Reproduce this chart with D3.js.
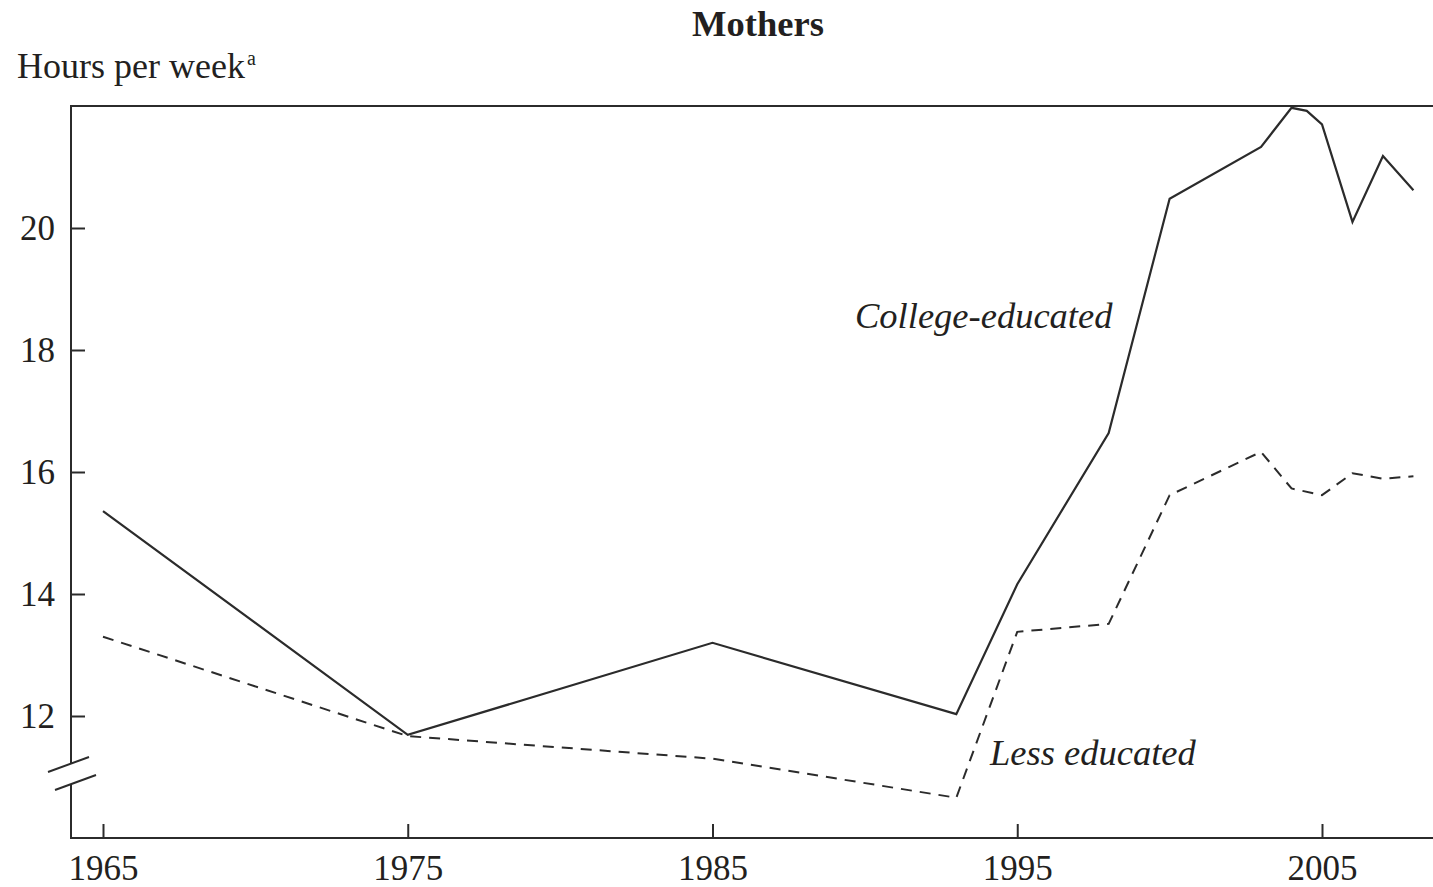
<!DOCTYPE html>
<html>
<head>
<meta charset="utf-8">
<script src="https://cdn.jsdelivr.net/npm/d3@7"></script>
<style>
  body { margin: 0; background: #fff; }
  text { font-family: "Liberation Serif", "Times New Roman", serif; fill: #231f20; }
</style>
</head>
<body>
<div id="chart"></div>
<script>
// data
const collegeYears = [1965, 1975, 1985, 1993, 1995, 1998, 2000, 2003, 2004, 2004.5, 2005, 2006, 2007, 2008];
const collegeHours = [15.36, 11.69, 13.20, 12.03, 14.16, 16.64, 20.48, 21.33, 21.97, 21.92, 21.70, 20.10, 21.18, 20.62];
const lessYears = [1965, 1975, 1985, 1993, 1995, 1998, 2000, 2003, 2004, 2005, 2006, 2007, 2008];
const lessHours = [13.30, 11.67, 11.30, 10.66, 13.38, 13.51, 15.62, 16.33, 15.73, 15.62, 15.98, 15.89, 15.93];
const xTicks = [1965, 1975, 1985, 1995, 2005];
const yTicks = [12, 14, 16, 18, 20];

const W = 1433, H = 887;
const plotLeft = 71, plotRight = 1433, plotTop = 106, plotBottom = 838;
const ink = "#2b2b2b";

const svg = d3.select("#chart").append("svg").attr("width", W).attr("height", H);

const x = d3.scaleLinear().domain([1965, 2005]).range([103, 1322]);
const y = d3.scaleLinear().domain([10, 22]).range([plotBottom, plotTop]);

// title + y label
svg.append("text").attr("x", 758).attr("y", 36)
  .attr("text-anchor", "middle").attr("font-size", 36.5).attr("font-weight", "bold")
  .text("Mothers");
const yl = svg.append("text").attr("x", 17).attr("y", 78).attr("font-size", 36);
yl.append("tspan").text("Hours per week");
yl.append("tspan").attr("font-size", 20).attr("dy", -13).attr("dx", 2).text("a");

// frame: top line
svg.append("line").attr("x1", plotLeft).attr("x2", plotRight).attr("y1", plotTop).attr("y2", plotTop)
  .attr("stroke", ink).attr("stroke-width", 2);

// y axis, ticks pointing inward
const yAxis = svg.append("g").attr("transform", `translate(${plotLeft},0)`)
  .call(d3.axisLeft(y).tickValues(yTicks).tickSize(-14).tickPadding(16).tickFormat(d3.format("d")));
yAxis.select(".domain").remove();
yAxis.selectAll(".tick line").attr("stroke", ink).attr("stroke-width", 2);
yAxis.selectAll(".tick text").attr("font-size", 35).attr("font-family", "Liberation Serif").attr("fill", "#231f20");

// y axis line with break
const brk = svg.append("g").attr("fill", "none").attr("stroke", ink).attr("stroke-width", 2);
brk.append("line").attr("x1", plotLeft).attr("x2", plotLeft).attr("y1", plotTop - 1).attr("y2", 763);
brk.append("line").attr("x1", plotLeft).attr("x2", plotLeft).attr("y1", 784).attr("y2", plotBottom);
brk.append("line").attr("x1", 48).attr("y1", 772).attr("x2", 89).attr("y2", 757);
brk.append("line").attr("x1", 55).attr("y1", 790).attr("x2", 96).attr("y2", 775);

// x axis
const xAxis = svg.append("g").attr("transform", `translate(0,${plotBottom})`)
  .call(d3.axisBottom(x).tickValues(xTicks).tickSize(-14).tickPadding(17).tickFormat(d3.format("d")));
xAxis.select(".domain").remove();
xAxis.selectAll(".tick line").attr("stroke", ink).attr("stroke-width", 2);
xAxis.selectAll(".tick text").attr("font-size", 35).attr("font-family", "Liberation Serif").attr("fill", "#231f20");
svg.append("line").attr("x1", plotLeft - 1).attr("x2", plotRight).attr("y1", plotBottom).attr("y2", plotBottom)
  .attr("stroke", ink).attr("stroke-width", 2);

// series
const line = d3.line().x(d => x(d[0])).y(d => y(d[1]));
svg.append("path").datum(d3.zip(collegeYears, collegeHours))
  .attr("d", line).attr("fill", "none").attr("stroke", ink).attr("stroke-width", 2.2)
  .attr("stroke-linejoin", "miter");
svg.append("path").datum(d3.zip(lessYears, lessHours))
  .attr("d", line).attr("fill", "none").attr("stroke", ink).attr("stroke-width", 2)
  .attr("stroke-dasharray", "11,8");

// series labels
svg.append("text").attr("x", 855).attr("y", 328).attr("font-size", 36.5).attr("font-style", "italic")
  .text("College-educated");
svg.append("text").attr("x", 990).attr("y", 765).attr("font-size", 36.5).attr("font-style", "italic")
  .text("Less educated");
</script>
</body>
</html>
